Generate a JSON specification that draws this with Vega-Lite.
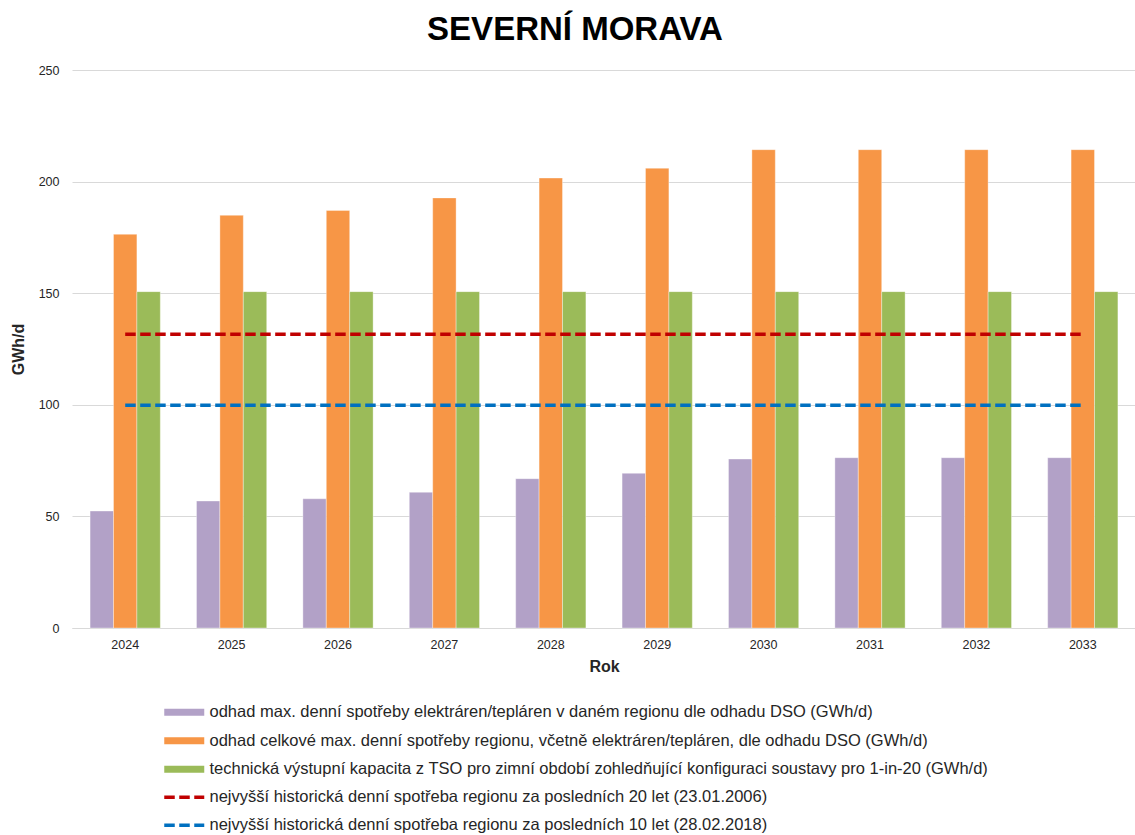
{
  "$schema": "https://vega.github.io/schema/vega-lite/v6.json",
  "width": 1064,
  "height": 558,
  "autosize": {"type": "none"},
  "padding": {"left": 72, "top": 70, "right": 0, "bottom": 207},
  "background": "white",
  "config": {"font": "Liberation Sans", "view": {"stroke": null}},
  "title": {"text": "SEVERNÍ MORAVA", "fontSize": 33, "fontWeight": "bold", "font": "Liberation Sans", "color": "#000000", "anchor": "middle", "baseline": "alphabetic", "offset": 28, "dx": -29, "dy": 37},
  "datasets": {
    "bars": [
      {"year": "2024", "series": "odhad max. denní spotřeby elektráren/tepláren v daném regionu dle odhadu DSO (GWh/d)", "value": 52.4},
      {"year": "2025", "series": "odhad max. denní spotřeby elektráren/tepláren v daném regionu dle odhadu DSO (GWh/d)", "value": 56.9},
      {"year": "2026", "series": "odhad max. denní spotřeby elektráren/tepláren v daném regionu dle odhadu DSO (GWh/d)", "value": 57.9},
      {"year": "2027", "series": "odhad max. denní spotřeby elektráren/tepláren v daném regionu dle odhadu DSO (GWh/d)", "value": 60.8},
      {"year": "2028", "series": "odhad max. denní spotřeby elektráren/tepláren v daném regionu dle odhadu DSO (GWh/d)", "value": 66.9},
      {"year": "2029", "series": "odhad max. denní spotřeby elektráren/tepláren v daném regionu dle odhadu DSO (GWh/d)", "value": 69.3},
      {"year": "2030", "series": "odhad max. denní spotřeby elektráren/tepláren v daném regionu dle odhadu DSO (GWh/d)", "value": 75.7},
      {"year": "2031", "series": "odhad max. denní spotřeby elektráren/tepláren v daném regionu dle odhadu DSO (GWh/d)", "value": 76.3},
      {"year": "2032", "series": "odhad max. denní spotřeby elektráren/tepláren v daném regionu dle odhadu DSO (GWh/d)", "value": 76.3},
      {"year": "2033", "series": "odhad max. denní spotřeby elektráren/tepláren v daném regionu dle odhadu DSO (GWh/d)", "value": 76.3},
      {"year": "2024", "series": "odhad celkové max. denní spotřeby regionu, včetně elektráren/tepláren, dle odhadu DSO (GWh/d)", "value": 176.4},
      {"year": "2025", "series": "odhad celkové max. denní spotřeby regionu, včetně elektráren/tepláren, dle odhadu DSO (GWh/d)", "value": 184.9},
      {"year": "2026", "series": "odhad celkové max. denní spotřeby regionu, včetně elektráren/tepláren, dle odhadu DSO (GWh/d)", "value": 187.1},
      {"year": "2027", "series": "odhad celkové max. denní spotřeby regionu, včetně elektráren/tepláren, dle odhadu DSO (GWh/d)", "value": 192.7},
      {"year": "2028", "series": "odhad celkové max. denní spotřeby regionu, včetně elektráren/tepláren, dle odhadu DSO (GWh/d)", "value": 201.6},
      {"year": "2029", "series": "odhad celkové max. denní spotřeby regionu, včetně elektráren/tepláren, dle odhadu DSO (GWh/d)", "value": 206.0},
      {"year": "2030", "series": "odhad celkové max. denní spotřeby regionu, včetně elektráren/tepláren, dle odhadu DSO (GWh/d)", "value": 214.3},
      {"year": "2031", "series": "odhad celkové max. denní spotřeby regionu, včetně elektráren/tepláren, dle odhadu DSO (GWh/d)", "value": 214.3},
      {"year": "2032", "series": "odhad celkové max. denní spotřeby regionu, včetně elektráren/tepláren, dle odhadu DSO (GWh/d)", "value": 214.3},
      {"year": "2033", "series": "odhad celkové max. denní spotřeby regionu, včetně elektráren/tepláren, dle odhadu DSO (GWh/d)", "value": 214.3},
      {"year": "2024", "series": "technická výstupní kapacita z TSO pro zimní období zohledňující konfiguraci soustavy pro 1-in-20 (GWh/d)", "value": 150.7},
      {"year": "2025", "series": "technická výstupní kapacita z TSO pro zimní období zohledňující konfiguraci soustavy pro 1-in-20 (GWh/d)", "value": 150.7},
      {"year": "2026", "series": "technická výstupní kapacita z TSO pro zimní období zohledňující konfiguraci soustavy pro 1-in-20 (GWh/d)", "value": 150.7},
      {"year": "2027", "series": "technická výstupní kapacita z TSO pro zimní období zohledňující konfiguraci soustavy pro 1-in-20 (GWh/d)", "value": 150.7},
      {"year": "2028", "series": "technická výstupní kapacita z TSO pro zimní období zohledňující konfiguraci soustavy pro 1-in-20 (GWh/d)", "value": 150.7},
      {"year": "2029", "series": "technická výstupní kapacita z TSO pro zimní období zohledňující konfiguraci soustavy pro 1-in-20 (GWh/d)", "value": 150.7},
      {"year": "2030", "series": "technická výstupní kapacita z TSO pro zimní období zohledňující konfiguraci soustavy pro 1-in-20 (GWh/d)", "value": 150.7},
      {"year": "2031", "series": "technická výstupní kapacita z TSO pro zimní období zohledňující konfiguraci soustavy pro 1-in-20 (GWh/d)", "value": 150.7},
      {"year": "2032", "series": "technická výstupní kapacita z TSO pro zimní období zohledňující konfiguraci soustavy pro 1-in-20 (GWh/d)", "value": 150.7},
      {"year": "2033", "series": "technická výstupní kapacita z TSO pro zimní období zohledňující konfiguraci soustavy pro 1-in-20 (GWh/d)", "value": 150.7}
    ],
    "lines": [
      {"year": "2024", "series": "nejvyšší historická denní spotřeba regionu za posledních 20 let (23.01.2006)", "value": 131.6},
      {"year": "2025", "series": "nejvyšší historická denní spotřeba regionu za posledních 20 let (23.01.2006)", "value": 131.6},
      {"year": "2026", "series": "nejvyšší historická denní spotřeba regionu za posledních 20 let (23.01.2006)", "value": 131.6},
      {"year": "2027", "series": "nejvyšší historická denní spotřeba regionu za posledních 20 let (23.01.2006)", "value": 131.6},
      {"year": "2028", "series": "nejvyšší historická denní spotřeba regionu za posledních 20 let (23.01.2006)", "value": 131.6},
      {"year": "2029", "series": "nejvyšší historická denní spotřeba regionu za posledních 20 let (23.01.2006)", "value": 131.6},
      {"year": "2030", "series": "nejvyšší historická denní spotřeba regionu za posledních 20 let (23.01.2006)", "value": 131.6},
      {"year": "2031", "series": "nejvyšší historická denní spotřeba regionu za posledních 20 let (23.01.2006)", "value": 131.6},
      {"year": "2032", "series": "nejvyšší historická denní spotřeba regionu za posledních 20 let (23.01.2006)", "value": 131.6},
      {"year": "2033", "series": "nejvyšší historická denní spotřeba regionu za posledních 20 let (23.01.2006)", "value": 131.6},
      {"year": "2024", "series": "nejvyšší historická denní spotřeba regionu za posledních 10 let (28.02.2018)", "value": 99.8},
      {"year": "2025", "series": "nejvyšší historická denní spotřeba regionu za posledních 10 let (28.02.2018)", "value": 99.8},
      {"year": "2026", "series": "nejvyšší historická denní spotřeba regionu za posledních 10 let (28.02.2018)", "value": 99.8},
      {"year": "2027", "series": "nejvyšší historická denní spotřeba regionu za posledních 10 let (28.02.2018)", "value": 99.8},
      {"year": "2028", "series": "nejvyšší historická denní spotřeba regionu za posledních 10 let (28.02.2018)", "value": 99.8},
      {"year": "2029", "series": "nejvyšší historická denní spotřeba regionu za posledních 10 let (28.02.2018)", "value": 99.8},
      {"year": "2030", "series": "nejvyšší historická denní spotřeba regionu za posledních 10 let (28.02.2018)", "value": 99.8},
      {"year": "2031", "series": "nejvyšší historická denní spotřeba regionu za posledních 10 let (28.02.2018)", "value": 99.8},
      {"year": "2032", "series": "nejvyšší historická denní spotřeba regionu za posledních 10 let (28.02.2018)", "value": 99.8},
      {"year": "2033", "series": "nejvyšší historická denní spotřeba regionu za posledních 10 let (28.02.2018)", "value": 99.8}
    ]
  },
  "encoding": {
    "x": {
      "field": "year", "type": "nominal",
      "scale": {"paddingInner": 0.34, "paddingOuter": 0.17},
      "axis": {"title": "Rok", "titleFontSize": 16, "titleFontWeight": "bold", "titleColor": "#262626", "titlePadding": 8, "labelAngle": 0, "labelFontSize": 12.5, "labelColor": "#262626", "labelPadding": 10, "ticks": false, "domainColor": "#d9d9d9", "domainWidth": 1, "grid": false}
    },
    "y": {
      "field": "value", "type": "quantitative",
      "scale": {"domain": [0, 250], "nice": false},
      "axis": {"title": "GWh/d", "titleFontSize": 16, "titleFontWeight": "bold", "titleColor": "#262626", "titlePadding": 12, "values": [0, 50, 100, 150, 200, 250], "labelFontSize": 12.5, "labelColor": "#262626", "labelPadding": 13, "ticks": false, "domain": false, "grid": true, "gridColor": "#d9d9d9", "gridWidth": 1}
    }
  },
  "layer": [
    {
      "data": {"name": "bars"},
      "mark": {"type": "bar", "stroke": "#ffffff", "strokeWidth": 0.6, "strokeOpacity": 0.6},
      "encoding": {
        "xOffset": {"field": "series", "type": "nominal", "scale": {"domain": [
          "odhad max. denní spotřeby elektráren/tepláren v daném regionu dle odhadu DSO (GWh/d)",
          "odhad celkové max. denní spotřeby regionu, včetně elektráren/tepláren, dle odhadu DSO (GWh/d)",
          "technická výstupní kapacita z TSO pro zimní období zohledňující konfiguraci soustavy pro 1-in-20 (GWh/d)"], "paddingInner": 0, "paddingOuter": 0}},
        "fill": {
          "field": "series", "type": "nominal",
          "scale": {"domain": [
            "odhad max. denní spotřeby elektráren/tepláren v daném regionu dle odhadu DSO (GWh/d)",
            "odhad celkové max. denní spotřeby regionu, včetně elektráren/tepláren, dle odhadu DSO (GWh/d)",
            "technická výstupní kapacita z TSO pro zimní období zohledňující konfiguraci soustavy pro 1-in-20 (GWh/d)"],
            "range": ["#b2a1c7", "#f79646", "#9bbb59"]},
          "legend": {"orient": "none", "legendX": 104, "legendY": 634, "direction": "vertical", "title": null, "padding": 0,
            "symbolType": "M-5,-0.9H5V0.9H-5Z", "symbolSize": 64, "symbolStrokeWidth": 0, "symbolOpacity": 1,
            "labelOffset": 17, "labelFontSize": 16.5, "labelFont": "Liberation Sans", "labelColor": "#262626", "labelLimit": 1000, "rowPadding": 11.5}
        }
      }
    },
    {
      "data": {"name": "lines"},
      "mark": {"type": "line", "strokeWidth": 3.5, "strokeDash": [10.5, 4.5], "strokeCap": "butt"},
      "encoding": {
        "stroke": {
          "field": "series", "type": "nominal",
          "scale": {"domain": [
            "nejvyšší historická denní spotřeba regionu za posledních 20 let (23.01.2006)",
            "nejvyšší historická denní spotřeba regionu za posledních 10 let (28.02.2018)"],
            "range": ["#c00000", "#0070c0"]},
          "legend": {"orient": "none", "legendX": 104, "legendY": 719, "direction": "vertical", "title": null, "padding": 0,
            "symbolType": "M-5,0H5", "symbolSize": 64, "symbolStrokeWidth": 3.5, "symbolDash": [10.5, 4.5], "symbolFillColor": "transparent", "symbolOpacity": 1,
            "labelOffset": 17, "labelFontSize": 16.5, "labelFont": "Liberation Sans", "labelColor": "#262626", "labelLimit": 1000, "rowPadding": 11}
        }
      }
    }
  ],
  "resolve": {"scale": {"fill": "independent", "stroke": "independent"}}
}
